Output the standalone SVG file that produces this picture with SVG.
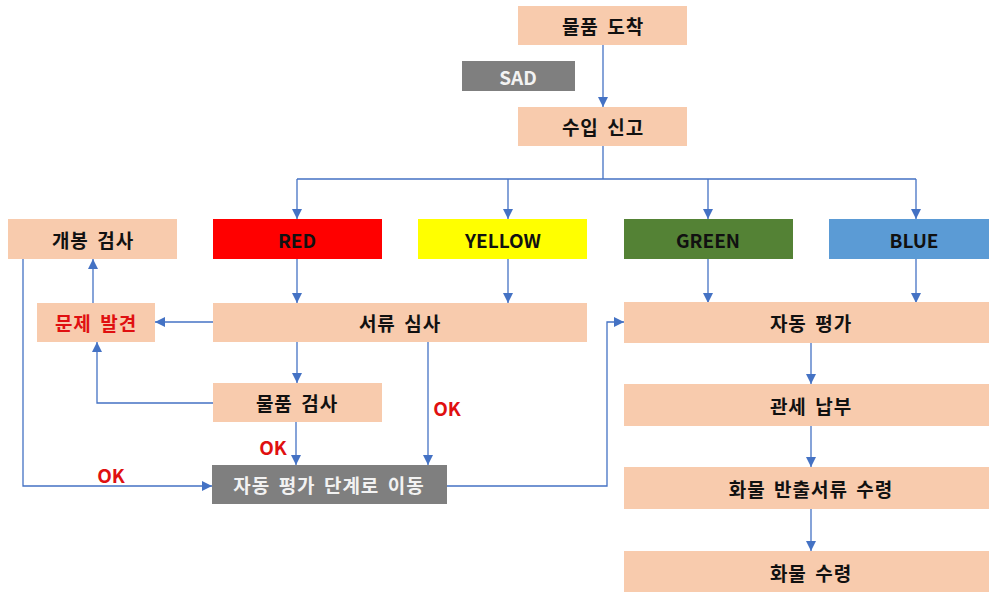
<svg xmlns="http://www.w3.org/2000/svg" width="989" height="592" viewBox="0 0 989 592">
<style>
.p{fill:#F8CBAD}
.g{fill:#7F7F7F}
text{font-family:"Noto Sans CJK KR","Open Sans",sans-serif;font-weight:bold;font-size:19px;text-anchor:middle;dominant-baseline:central}
.k{letter-spacing:1px;word-spacing:3px}
.t{fill:#111}
.w{fill:#F2F2F2}
.r{fill:#E01010}
.c{fill:none;stroke:#4472C4;stroke-width:1.3}
</style>
<defs>
<marker id="a" markerUnits="userSpaceOnUse" markerWidth="10" markerHeight="10" viewBox="0 0 10 10" refX="10" refY="5" orient="auto">
<path d="M0,0 L10,5 L0,10 z" fill="#4472C4"/>
</marker>
</defs>
<rect width="989" height="592" fill="#fff"/>
<g id="connectors">
<path class="c" d="M603,45 V107" marker-end="url(#a)"/>
<path class="c" d="M603,146 V179 M297,179 H916"/>
<path class="c" d="M297,179 V219" marker-end="url(#a)"/>
<path class="c" d="M508,179 V219" marker-end="url(#a)"/>
<path class="c" d="M708,179 V219" marker-end="url(#a)"/>
<path class="c" d="M916,179 V219" marker-end="url(#a)"/>
<path class="c" d="M297,259 V303" marker-end="url(#a)"/>
<path class="c" d="M508,259 V303" marker-end="url(#a)"/>
<path class="c" d="M708,259 V303" marker-end="url(#a)"/>
<path class="c" d="M916,259 V303" marker-end="url(#a)"/>
<path class="c" d="M213,322 H155" marker-end="url(#a)"/>
<path class="c" d="M93,303 V259" marker-end="url(#a)"/>
<path class="c" d="M297,342 V383" marker-end="url(#a)"/>
<path class="c" d="M213,403 H97 V342" marker-end="url(#a)"/>
<path class="c" d="M296,422 V465" marker-end="url(#a)"/>
<path class="c" d="M428,342 V465" marker-end="url(#a)"/>
<path class="c" d="M23,259 V486 H212" marker-end="url(#a)"/>
<path class="c" d="M447,486 H607 V322 H624" marker-end="url(#a)"/>
<path class="c" d="M811,342 V384" marker-end="url(#a)"/>
<path class="c" d="M811,426 V467" marker-end="url(#a)"/>
<path class="c" d="M811,509 V551" marker-end="url(#a)"/>
<text class="r" x="273" y="446">OK</text>
<text class="r" x="447" y="407">OK</text>
<text class="r" x="111" y="474">OK</text>
</g>
<g id="n-arrive"><rect class="p" x="518" y="6" width="169" height="39"/><text class="t k" x="603" y="25.5">물품 도착</text></g>
<g id="n-sad"><rect class="g" x="462" y="61" width="113" height="30"/><text class="w" x="518" y="76">SAD</text></g>
<g id="n-declare"><rect class="p" x="518" y="107" width="169" height="39"/><text class="t k" x="603" y="126.5">수입 신고</text></g>
<g id="n-open"><rect class="p" x="8" y="219" width="169" height="40"/><text class="t k" x="93" y="239">개봉 검사</text></g>
<g id="n-red"><rect fill="#FF0000" x="213" y="219" width="169" height="40"/><text class="t" x="297" y="239">RED</text></g>
<g id="n-yellow"><rect fill="#FFFF00" x="418" y="219" width="169" height="40"/><text class="t" x="503" y="239">YELLOW</text></g>
<g id="n-green"><rect fill="#548235" x="624" y="219" width="169" height="40"/><text class="t" x="708" y="239">GREEN</text></g>
<g id="n-blue"><rect fill="#5B9BD5" x="829" y="219" width="170" height="40"/><text class="t" x="914" y="239">BLUE</text></g>
<g id="n-problem"><rect class="p" x="37" y="303" width="118" height="39"/><text class="r k" x="96" y="322.5">문제 발견</text></g>
<g id="n-docs"><rect class="p" x="213" y="303" width="374" height="39"/><text class="t k" x="400" y="322.5">서류 심사</text></g>
<g id="n-auto"><rect class="p" x="624" y="302" width="374" height="41"/><text class="t k" x="811" y="322.5">자동 평가</text></g>
<g id="n-goods"><rect class="p" x="213" y="383" width="169" height="39"/><text class="t k" x="297" y="402.5">물품 검사</text></g>
<g id="n-duty"><rect class="p" x="624" y="384" width="374" height="42"/><text class="t k" x="811" y="405">관세 납부</text></g>
<g id="n-move"><rect class="g" x="212" y="465" width="235" height="39"/><text class="w k" x="329" y="484.5">자동 평가 단계로 이동</text></g>
<g id="n-release"><rect class="p" x="624" y="467" width="374" height="42"/><text class="t k" x="811" y="488">화물 반출서류 수령</text></g>
<g id="n-receive"><rect class="p" x="624" y="551" width="374" height="41"/><text class="t k" x="811" y="572">화물 수령</text></g>
</svg>
